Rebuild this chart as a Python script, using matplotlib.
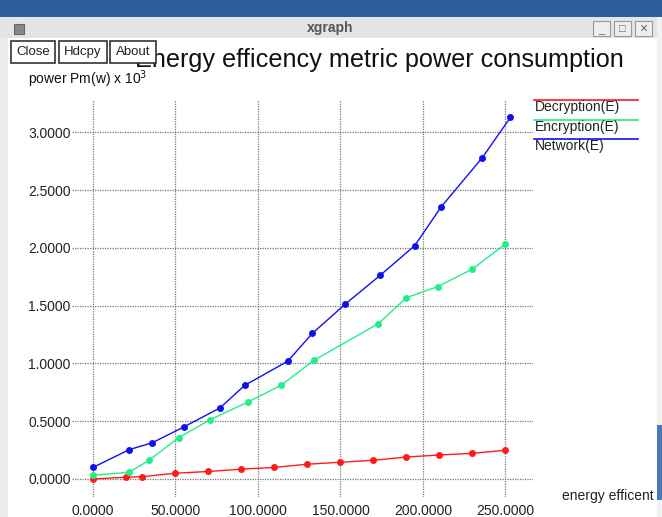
import matplotlib
matplotlib.use('Agg')
import matplotlib.pyplot as plt
from matplotlib.patches import Rectangle

plt.rcParams['font.family'] = ['Liberation Sans', 'DejaVu Sans']

# data
dec_x = [0, 20, 30, 50, 70, 90, 110, 130, 150, 170, 190, 210, 230, 250]
dec_y = [0.0, 0.015, 0.02, 0.05, 0.065, 0.085, 0.10, 0.128, 0.145, 0.162, 0.19, 0.208, 0.222, 0.249]

enc_x = [0, 22, 34, 52, 71, 94, 114, 134, 173, 190, 209, 230, 250]
enc_y = [0.032, 0.058, 0.162, 0.358, 0.513, 0.667, 0.811, 1.028, 1.345, 1.57, 1.665, 1.818, 2.035]

net_x = [0, 22, 36, 55, 77, 92, 118, 133, 153, 174, 195, 211, 236, 253]
net_y = [0.10, 0.254, 0.314, 0.45, 0.615, 0.811, 1.019, 1.261, 1.515, 1.762, 2.02, 2.355, 2.782, 3.13]

series = [('Decryption(E)', dec_x, dec_y, '#ff1a1a'),
          ('Encryption(E)', enc_x, enc_y, '#22ee88'),
          ('Network(E)', net_x, net_y, '#1010ee')]

xticks = [0, 50, 100, 150, 200, 250]
yticks = [0.0, 0.5, 1.0, 1.5, 2.0, 2.5, 3.0]

W, H = 662, 517
fig = plt.figure(figsize=(W / 100, H / 100), dpi=100)
fig.patch.set_facecolor('white')

def px(x, y, w, h, **kw):
    # rectangle in screen pixels (y from top)
    fig.patches.append(Rectangle((x / W, 1 - (y + h) / H), w / W, h / H,
                                 transform=fig.transFigure, **kw))

def txt(x, y, s, **kw):
    fig.text(x / W, 1 - y / H, s, **kw)

# window chrome
px(0, 0, W, 17, color='#2f5d9c', lw=0)
px(0, 17, W, 21, color='#e4e4e4', lw=0)
px(0, 38, 8, H, color='#ececec', lw=0)
px(657, 17, 5, H, color='#f2f2f2', lw=0)
px(657, 425, 5, 75, color='#4a78b8', lw=0)
px(14, 24, 10, 10, facecolor='#888888', edgecolor='#666666', lw=0.8)
txt(330, 28, 'xgraph', ha='center', va='center', fontsize=10,
    fontweight='bold', color='#555555')
for bx in [593, 614, 635]:
    px(bx, 21, 17, 15, facecolor='#eeeeee', edgecolor='#999999', lw=0.8)
txt(601, 30, '_', ha='center', va='center', fontsize=8, color='#666666')
txt(622, 29, '□', ha='center', va='center', fontsize=8, color='#666666')
txt(643, 29, '×', ha='center', va='center', fontsize=10, color='#666666')

txt(379, 60, 'Energy efficency metric power consumption', ha='center',
    va='center', fontsize=18.2, color='#111111')
for bx, bw, lab in [(11, 44, 'Close'), (59, 48, 'Hdcpy'), (110, 46, 'About')]:
    px(bx, 41, bw, 22, facecolor='white', edgecolor='#333333', lw=1.2, zorder=5)
    txt(bx + bw / 2, 52, lab, ha='center', va='center', fontsize=9.5,
        color='#222222', zorder=6)
txt(28, 79, r'power Pm(w) x 10$^3$', ha='left', va='center', fontsize=10, color='#111111')
txt(654, 496, 'energy efficent', ha='right', va='center', fontsize=10, color='#222222')

# plot area
ax = fig.add_axes([72 / W, 20 / H, 461 / W, 397 / H])
ax.set_facecolor('none')
ax.set_xlim(-12.7, 266.7)
ax.set_ylim(-0.156, 3.281)
for s in ax.spines.values():
    s.set_visible(False)
ax.set_xticks(xticks)
ax.set_yticks(yticks)
ax.set_xticklabels(['%.4f' % v for v in xticks])
ax.set_yticklabels(['%.4f' % v for v in yticks])
ax.tick_params(length=0, labelsize=10, labelcolor='#222222')
ax.tick_params(axis='y', pad=1)
ax.tick_params(axis='x', pad=5)
ax.grid(True, color='#777777', linestyle=(0, (1, 1)), linewidth=0.9)

for lab, xs, ys, c in series:
    ax.plot(xs, ys, color=c, linewidth=1, marker='o', markersize=5,
            markeredgewidth=0, label=lab)

# xgraph style legend: coloured line above each name
for i, (lab, xs, ys, c) in enumerate(series):
    y0 = 100 + i * 19.5
    fig.add_artist(plt.Line2D([534 / W, 638 / W], [1 - y0 / H, 1 - y0 / H],
                              color=c, lw=1.2, transform=fig.transFigure))
    txt(535, y0 + 7, lab, ha='left', va='center', fontsize=10, color='#222222')

fig.savefig('out.png', dpi=100)
